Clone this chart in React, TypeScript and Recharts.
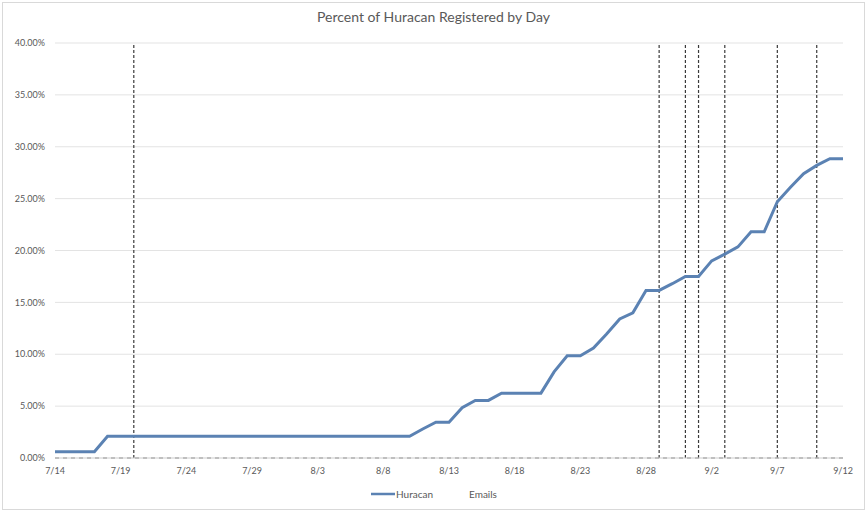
import React from "react";
import {
  LineChart,
  Line,
  XAxis,
  YAxis,
  CartesianGrid,
  ReferenceLine,
  Legend,
} from "recharts";

// one label per day, 7/14 .. 9/12
const days = [
  "7/14", "7/15", "7/16", "7/17", "7/18", "7/19", "7/20", "7/21", "7/22", "7/23",
  "7/24", "7/25", "7/26", "7/27", "7/28", "7/29", "7/30", "7/31", "8/1", "8/2",
  "8/3", "8/4", "8/5", "8/6", "8/7", "8/8", "8/9", "8/10", "8/11", "8/12",
  "8/13", "8/14", "8/15", "8/16", "8/17", "8/18", "8/19", "8/20", "8/21", "8/22",
  "8/23", "8/24", "8/25", "8/26", "8/27", "8/28", "8/29", "8/30", "8/31", "9/1",
  "9/2", "9/3", "9/4", "9/5", "9/6", "9/7", "9/8", "9/9", "9/10", "9/11",
  "9/12",
];

// percent registered
const huracan = [
  0.6, 0.6, 0.6, 0.6, 2.1, 2.1, 2.1, 2.1, 2.1, 2.1,
  2.1, 2.1, 2.1, 2.1, 2.1, 2.1, 2.1, 2.1, 2.1, 2.1,
  2.1, 2.1, 2.1, 2.1, 2.1, 2.1, 2.1, 2.1, 2.8, 3.45,
  3.45, 4.85, 5.55, 5.55, 6.25, 6.25, 6.25, 6.25, 8.3, 9.85,
  9.85, 10.6, 11.95, 13.4, 14.0, 16.15, 16.15, 16.8, 17.5, 17.5,
  19.0, 19.65, 20.35, 21.8, 21.8, 24.7, 26.1, 27.4, 28.2, 28.85,
  28.85,
];

// days an email went out
const emailDays = ["7/20", "8/29", "8/31", "9/1", "9/3", "9/7", "9/10"];

const yTicks = [0, 5, 10, 15, 20, 25, 30, 35, 40];

const data = days.map((d, i) => ({ day: d, huracan: huracan[i] }));

const FONT = "Lato, 'Open Sans', sans-serif";
const TEXT = "#595959";
const BLUE = "#5b82b3";

const LegendBox = () => (
  <div
    style={{
      display: "flex",
      justifyContent: "center",
      alignItems: "center",
      fontFamily: FONT,
      fontSize: 10,
      color: TEXT,
      gap: 36,
      paddingLeft: 20,
      paddingTop: 5,
    }}
  >
    <span style={{ display: "flex", alignItems: "center" }}>
      <svg width={24} height={6} style={{ marginRight: 1 }}>
        <line x1={0} y1={3} x2={24} y2={3} stroke={BLUE} strokeWidth={2.5} />
      </svg>
      Huracan
    </span>
    <span>Emails</span>
  </div>
);

export default function App() {
  return (
    <div
      style={{
        position: "absolute",
        left: 0,
        top: 0,
        width: 867,
        height: 513,
        background: "#fff",
      }}
    >
      <div
        style={{
          position: "absolute",
          left: 2,
          top: 2,
          width: 861,
          height: 506,
          border: "1px solid #d9d9d9",
        }}
      />
      <div
        style={{
          position: "absolute",
          left: 0,
          top: 8,
          width: 867,
          textAlign: "center",
          fontFamily: FONT,
          fontSize: 14,
          color: TEXT,
        }}
      >
        Percent of Huracan Registered by Day
      </div>
      <div style={{ position: "absolute", left: 0, top: 0 }}>
        <LineChart
          width={867}
          height={513}
          data={data}
          margin={{ top: 43, right: 24, left: 5, bottom: 10 }}
        >
          <CartesianGrid vertical={false} stroke="#e3e3e3" />
          <XAxis
            dataKey="day"
            interval={4}
            tickLine={false}
            axisLine={{ stroke: "#d9d9d9" }}
            tickSize={0}
            tickMargin={10}
            height={25}
            tick={{ fontSize: 9, fill: TEXT, fontFamily: FONT }}
          />
          <YAxis
            domain={[0, 40]}
            ticks={yTicks}
            tickFormatter={(v: number) => v.toFixed(2) + "%"}
            axisLine={false}
            tickLine={false}
            tickSize={0}
            tickMargin={10}
            width={50}
            tick={{ fontSize: 9, fill: TEXT, fontFamily: FONT }}
          />
          <ReferenceLine y={0} stroke="#595959" strokeDasharray="4 4" />
          {emailDays.map((d) => (
            <ReferenceLine
              key={d}
              x={d}
              stroke="#3a3a3a"
              strokeWidth={1.2}
              strokeDasharray="3 2"
            />
          ))}
          <Line
            type="linear"
            dataKey="huracan"
            stroke={BLUE}
            strokeWidth={3}
            dot={false}
            isAnimationActive={false}
          />
          <Legend
            verticalAlign="bottom"
            height={20}
            content={() => <LegendBox />}
          />
        </LineChart>
      </div>
    </div>
  );
}
